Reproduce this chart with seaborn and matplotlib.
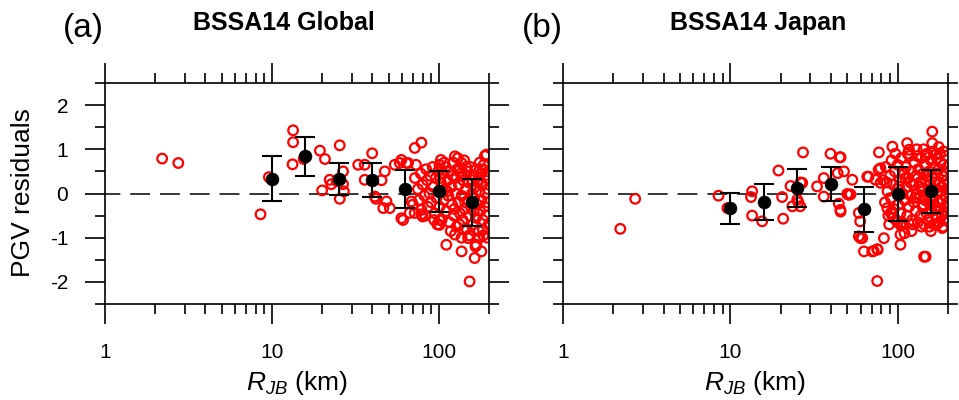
import matplotlib
matplotlib.use("Agg")
import matplotlib.pyplot as plt
import matplotlib.ticker as mticker
import seaborn as sns

# residuals: distance (km) and PGV residual
global_rjb = [2.2, 2.75, 8.55, 9.6, 13.4, 13.4, 13.3, 15.5, 19.4, 20.8, 20.0, 22.2, 22.7,
              25.5, 26.7, 26.7, 25.5, 24.5, 27.0, 32.9, 36, 36, 39.9, 41.4, 42, 45.4, 47.5,
              46.5, 50.9, 48.6, 54.5, 58.4, 61.1, 64, 71.8, 78.7, 68.6, 71.8, 78.7, 111, 125,
              137, 137, 153, 141, 164, 166, 59.7, 65.5, 59.7, 67, 78.7, 80, 101, 103, 125,
              137, 134, 101, 101, 150, 180, 168, 193, 193, 184, 175,
              72, 75, 76, 78, 80, 82, 84, 85, 86, 88, 89, 90, 92, 93, 95, 96, 97, 99, 100,
              101, 103, 104, 106, 107, 109, 110, 111, 113, 114, 116, 117, 119, 120, 122, 123,
              125, 126, 128, 129, 131, 132, 134, 135, 137, 139, 140, 142, 143, 145, 147, 148,
              150, 151, 153, 155, 156, 158, 160, 161, 163, 165, 167, 168, 170, 172, 174, 175,
              177, 179, 180, 182, 184, 186, 188, 190, 192, 194, 196, 197, 199, 198, 185, 176,
              152, 130, 118, 108, 94, 83, 70, 73, 146, 162, 138, 124, 112, 195, 189, 183, 171,
              159, 144, 133, 121, 102, 98]
global_res = [0.79, 0.69, -0.47, 0.37, 1.43, 1.16, 0.66, 0.78, 0.97, 0.78, 0.07, 0.31, 0.21,
              1.09, 0.5, 0.21, -0.12, 0.28, 0.05, 0.65, 0.65, 0.31, 0.91, -0.07, -0.12, 0.3, 0.5,
              -0.33, -0.33, -0.18, 0.65, 0.69, -0.6, 0.69, 1.03, 1.15, -0.18, -0.44, -0.47, -1.16, -0.93,
              -1.0, -1.31, -1.99, -0.82, -1.46, -1.2, 0.76, 0.69, -0.56, -0.44, -0.37, -0.52, 0.65, 0.76, 0.84,
              0.69, 0.57, -0.6, -0.71, -1.01, -1.31, -1.16, 0.88, 0.42, -0.82, -1.0,
              0.35, 0.1, -0.15, 0.45, 0.2, -0.05, 0.55, 0.3, -0.3, 0.0, 0.4, -0.2, 0.6, 0.15, -0.45, 0.35, -0.1, 0.5, 0.05,
              -0.3, 0.25, -0.6, 0.45, -0.15, 0.1, 0.6, -0.4, 0.3, -0.05, -0.65, 0.5, 0.15, -0.25, 0.7, -0.5,
              0.35, 0.0, -0.75, 0.55, -0.2, 0.2, -0.45, 0.45, -0.05, -0.6, 0.3, 0.75, -0.35, 0.1, -0.8, 0.5,
              -0.15, 0.25, -0.5, 0.6, -0.3, 0.0, -0.7, 0.4, -0.1, 0.15, -0.55, 0.55, -0.25, 0.3, -0.85, 0.05,
              -0.4, 0.45, -0.15, 0.2, -0.6, 0.65, -0.3, 0.0, -0.5, 0.35, -0.2, 0.1, -0.7, 0.5, -0.95, 0.7,
              -0.95, 0.8, -0.85, 0.7, -0.6, -0.5, -0.25, 0.65, 0.6, -0.4, 0.4, -0.35, 0.05, -1.0, 0.85, 0.55, 0.25,
              0.3, -0.2, -0.7, 0.4, 0.35, -0.7]

japan_rjb = [2.7, 2.2, 8.5, 9.6, 13.5, 13.3, 13.5, 15.5, 19.4, 20.4, 20.7, 22.9, 23.5, 25.1,
             26.3, 27.2, 33, 36.2, 36.2, 39.7, 45.6, 43.8, 47.8, 44.5, 45.6, 50, 53.6, 52.3, 58.6,
             59.7, 58.6, 61.5, 62.9, 70.5, 75.5, 75.5, 65.8, 73.8, 77.3, 79, 82.8, 93, 104, 104,
             114, 117, 144, 161, 161, 185, 200, 45, 169, 147, 72, 76, 60, 77, 79, 67, 51, 45.5,
             26.9, 25.5, 26.2, 86.7, 91, 94, 104,
             82, 84, 85, 87, 88, 90, 91, 92, 94, 95, 96, 98, 99, 100, 101, 103, 104, 105, 107,
             108, 109, 110, 112, 113, 114, 116, 117, 118, 120, 121, 122, 124, 125, 126, 128, 129,
             130, 132, 133, 134, 136, 137, 138, 140, 141, 142, 144, 145, 146, 148, 149, 150, 152,
             153, 154, 156, 157, 158, 160, 161, 162, 164, 165, 166, 168, 169, 170, 172, 173, 174,
             176, 177, 178, 180, 181, 182, 184, 185, 186, 188, 189, 190, 192, 193, 194, 196, 197,
             198, 199, 200, 195, 187, 179, 171, 163, 155, 147, 139, 131, 123, 115, 106, 97, 89,
             86, 93, 102, 111, 119, 127, 135, 143, 151, 159, 167, 175, 183, 191, 143, 176, 121,
             158, 130, 188, 110, 100]
japan_res = [-0.12, -0.8, -0.05, -0.33, 0.05, -0.08, -0.5, -0.63, 0.52, -0.08, -0.57, 0.17, -0.29, -0.14,
             0.25, 0.93, 0.16, 0.35, -0.07, 0.9, 0.82, 0.46, 0.5, -0.23, -0.41, -0.01, 0.31, -0.02, -0.44,
             -0.63, -0.97, -1.01, -1.31, -1.31, -1.26, -1.98, 0.38, 0.31, 0.93, 0.57, -1.01, 1.06, -0.93, -1.16,
             1.14, 0.99, -1.43, 1.4, 1.14, -0.78, -0.63, 0.82, 0.88, -1.43, -1.3, -1.27, -1.01, 0.54, 0.24, 0.38, -0.03, -0.37,
             0.24, -0.2, -0.29, -0.33, -0.44, -0.55, -0.71,
             0.3, -0.2, 0.6, 0.05, -0.5, 0.4, -0.1, 0.75, 0.2, -0.35, 0.5, -0.6, 0.1, 0.65, -0.25, 0.3, -0.45, 0.8, 0.0,
             -0.7, 0.45, -0.15, 0.6, 0.15, -0.5, 0.35, -0.3, 0.85, -0.05, 0.5, -0.6, 0.2, -0.2, 0.7, -0.4, 0.4,
             0.0, -0.65, 0.55, -0.1, 0.25, -0.5, 0.8, 0.1, -0.3, 0.45, -0.7, 0.65, -0.15, 0.3, -0.45, 0.9, 0.0,
             -0.6, 0.5, -0.25, 0.2, 0.75, -0.4, 0.35, -0.05, -0.7, 0.6, 0.1, -0.3, 0.45, -0.55, 0.8, 0.0, -0.2,
             0.55, -0.65, 0.25, -0.35, 0.7, 0.05, -0.5, 0.4, -0.15, 0.65, -0.6, 0.2, -0.3, 0.5, -0.05, 0.3, -0.45,
             0.6, -0.2, 0.1, 0.85, -0.75, 0.9, -0.7, 0.95, -0.75, 0.85, -0.75, 0.85, -0.7, 0.9, -0.65, 0.9, -0.7,
             0.25, -0.45, 0.15, 0.35, 0.25, -0.1, 0.15, -0.25, 0.4, -0.15, 0.25, -0.35, 0.15, -0.4, 1.0, 1.05, -0.85,
             -0.85, 1.0, 0.95, -0.9, -0.65]

# binned means and standard deviations
bin_rjb = [10, 15.8, 25.1, 39.8, 63.1, 100, 158.5]
global_mean = [0.33, 0.84, 0.33, 0.31, 0.11, 0.05, -0.2]
global_std = [0.51, 0.44, 0.36, 0.38, 0.43, 0.47, 0.53]
japan_mean = [-0.33, -0.2, 0.12, 0.22, -0.36, -0.02, 0.05]
japan_std = [0.35, 0.41, 0.43, 0.39, 0.5, 0.61, 0.48]

panels = ["(a)", "(b)"]
titles = ["BSSA14 Global", "BSSA14 Japan"]

sns.set_style("ticks")
plt.rcParams['font.family'] = ['Liberation Sans', 'DejaVu Sans']
plt.rcParams['text.color'] = 'black'
plt.rcParams['axes.labelcolor'] = 'black'
plt.rcParams['axes.unicode_minus'] = False
plt.rcParams['mathtext.fontset'] = 'custom'
plt.rcParams['mathtext.rm'] = 'Liberation Sans'
plt.rcParams['mathtext.it'] = 'Liberation Sans:italic'

fig = plt.figure(figsize=(9.59, 4.0), dpi=100)
ax1 = fig.add_axes([105 / 959, 96 / 400, 384 / 959, 221 / 400])
ax2 = fig.add_axes([563 / 959, 96 / 400, 385 / 959, 221 / 400])

data = [(ax1, global_rjb, global_res, global_mean, global_std),
        (ax2, japan_rjb, japan_res, japan_mean, japan_std)]

for i, (ax, rjb, res, mean, std) in enumerate(data):
    ax.axhline(0, color='black', lw=1.1, linestyle=(3, (13, 6.5)), zorder=1)
    sns.scatterplot(x=rjb, y=res, ax=ax, marker='o', s=48, facecolor='none',
                    edgecolor='red', linewidth=1.6, zorder=2)
    ax.errorbar(bin_rjb, mean, yerr=std, fmt='none', ecolor='black', elinewidth=1.5,
                capsize=7.5, capthick=1.5, zorder=3)
    sns.scatterplot(x=bin_rjb, y=mean, ax=ax, color='black', s=85, edgecolor='black',
                    linewidth=0.5, zorder=4)

    ax.set_xscale('log')
    ax.set_xlim(1, 200)
    ax.set_ylim(-2.5, 2.5)
    ax.xaxis.set_major_locator(mticker.FixedLocator([1, 10, 100]))
    ax.xaxis.set_minor_locator(mticker.FixedLocator(
        [2, 3, 4, 5, 6, 7, 8, 9, 20, 30, 40, 50, 60, 70, 80, 90, 200]))
    ax.xaxis.set_major_formatter(mticker.FixedFormatter(['1', '10', '100']))
    ax.xaxis.set_minor_formatter(mticker.NullFormatter())
    ax.yaxis.set_major_locator(mticker.FixedLocator([-2, -1, 0, 1, 2]))
    ax.yaxis.set_minor_locator(mticker.FixedLocator([-2.5, -1.5, -0.5, 0.5, 1.5, 2.5]))
    ax.tick_params(which='both', direction='out', top=True, right=True, width=1.2,
                   colors='black', labelsize=15)
    ax.tick_params(which='major', length=14.4)
    ax.tick_params(which='minor', length=7.2)
    ax.tick_params(axis='x', pad=14)
    ax.tick_params(axis='y', pad=12)
    if i == 1:
        ax.tick_params(axis='y', labelleft=False)
    for sp in ax.spines.values():
        sp.set_linewidth(1.2)
        sp.set_color('black')
    ax.set_xlabel('')
    ax.set_ylabel('')

fig.text(83 / 959, 1 - 28 / 400, panels[0], fontsize=24, ha='center', va='center')
fig.text(542 / 959, 1 - 28 / 400, panels[1], fontsize=24, ha='center', va='center')
fig.text(284 / 959, 1 - 23 / 400, titles[0], fontsize=18, fontweight='bold', ha='center', va='center')
fig.text(758 / 959, 1 - 23 / 400, titles[1], fontsize=18, fontweight='bold', ha='center', va='center')
fig.text(23 / 959, 1 - 193 / 400, 'PGV residuals', fontsize=19, rotation=90, ha='center', va='center')
fig.text(297 / 959, 1 - 383 / 400, r'$R_{JB}$ (km)', fontsize=19, ha='center', va='center')
fig.text(755 / 959, 1 - 383 / 400, r'$R_{JB}$ (km)', fontsize=19, ha='center', va='center')

fig.savefig('out.png', dpi=100)
